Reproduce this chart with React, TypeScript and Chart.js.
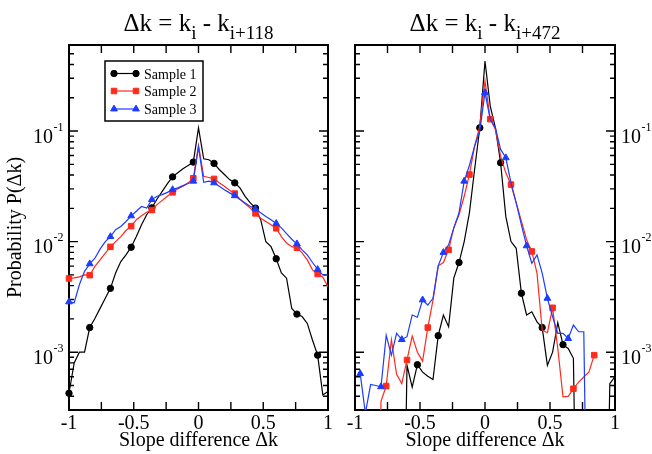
import React, { useEffect, useRef } from 'react';
import { Chart, registerables } from 'chart.js';

Chart.register(...registerables);

// ---------- data ----------
const xGrid = [
  -1, -0.96, -0.92, -0.88, -0.84, -0.8, -0.76, -0.72, -0.68, -0.64, -0.6, -0.56, -0.52,
  -0.48, -0.44, -0.4, -0.36, -0.32, -0.28, -0.24, -0.2, -0.16, -0.12, -0.08, -0.04, 0,
  0.04, 0.08, 0.12, 0.16, 0.2, 0.24, 0.28, 0.32, 0.36, 0.4, 0.44, 0.48, 0.52, 0.56, 0.6,
  0.64, 0.68, 0.72, 0.76, 0.8, 0.84, 0.88, 0.92, 0.96, 1,
];

const seriesNames = ['Sample 1', 'Sample 2', 'Sample 3'];

// Left panel: Δk = k_i - k_{i+118}
const left1 = [
  4.25e-4, 8.0e-4, 1.0e-3, 1.0e-3, 1.67e-3, 2.02e-3, 2.49e-3, 3.07e-3, 3.78e-3, 5.2e-3, 6.6e-3, 7.6e-3, 8.9e-3,
  0.0111, 0.0142, 0.0175, 0.0202, 0.0243, 0.0285, 0.0335, 0.0385, 0.0419, 0.0455, 0.0488, 0.0524, 0.107,
  0.0561, 0.055, 0.051, 0.0449, 0.0405, 0.0364, 0.034, 0.0306, 0.0257, 0.0224, 0.0201, 0.0158, 0.01, 0.009, 0.007,
  0.0052, 0.00467, 0.00249, 0.00221, 0.0021, 0.00182, 0.00129, 0.00094, 0.00041, 0.00044,
];
const left2 = [
  4.64e-3, 4.7e-3, 4.8e-3, 5.0e-3, 4.97e-3, 5.96e-3, 6.84e-3, 7.87e-3, 8.97e-3, 0.01, 0.0111, 0.0126, 0.0138,
  0.0158, 0.0171, 0.0184, 0.0193, 0.0216, 0.0236, 0.0257, 0.0279, 0.03, 0.0317, 0.034, 0.0374, 0.074,
  0.039, 0.038, 0.0369, 0.034, 0.0317, 0.0291, 0.0272, 0.0243, 0.022, 0.0201, 0.018, 0.0163, 0.0152, 0.0142, 0.0132,
  0.0111, 0.0097, 0.009, 0.0088, 0.0079, 0.00684, 0.00555, 0.0051, 0.00476, 0.0039,
];
const left3 = [
  2.85e-3, 2.8e-3, 4.07e-3, 5.38e-3, 6.3e-3, 7.08e-3, 8.55e-3, 0.01, 0.0111, 0.0128, 0.0137, 0.0152, 0.0171,
  0.0188, 0.0208, 0.0201, 0.024, 0.0257, 0.0266, 0.0279, 0.0295, 0.0306, 0.0321, 0.0335, 0.0352, 0.072,
  0.0344, 0.0352, 0.034, 0.0317, 0.0295, 0.0276, 0.026, 0.024, 0.0224, 0.0208, 0.0197, 0.0182, 0.0169, 0.0158, 0.0146,
  0.0133, 0.0118, 0.0105, 0.00955, 0.00843, 0.00759, 0.00647, 0.0056, 0.005, 0.00497,
];

// Right panel: Δk = k_i - k_{i+472}
const right1 = [
  null, null, null, null, null, null, null, null, null, 1e-6, 7.6e-4, 4.84e-4, 7.7e-4,
  6.6e-4, 6.05e-4, 5.65e-4, 1.41e-3, 2.17e-3, 1.7e-3, 4.67e-3, 6.47e-3, 0.01, 0.0182, 0.0449, 0.107, 0.43,
  0.169, 0.107, 0.0517, 0.0169, 0.01, 0.0087, 3.41e-3, 2.17e-3, 2.32e-3, 1.88e-3, 1.67e-3, 7.6e-4, 1.0e-3, 1.85e-3, 1.17e-3,
  1.08e-3, 8.8e-4, 1e-6, null, null, null, null, 1e-6, 5.2e-4, 6.0e-4,
];
const right2 = [
  null, null, null, null, 1e-6, 3.6e-4, 4.94e-4, 1.3e-3, 6.3e-4, 5.2e-4, 8.5e-4, 1.4e-3, 1.0e-3,
  8.3e-4, 1.67e-3, 2.96e-3, 6.04e-3, 6.47e-3, 8.43e-3, 0.0133, 0.0175, 0.0257, 0.0404, 0.073, 0.111, 0.284,
  0.128, 0.1035, 0.0593, 0.0419, 0.0328, 0.0224, 0.0153, 0.0104, 8.15e-3, 5.18e-3, 1.58e-3, 1.5e-3, 2.52e-3, 1.08e-3, 3.94e-4,
  3.98e-4, 4.67e-4, 5.37e-4, 5.97e-4, 6.63e-4, 9.4e-4, null, null, null, null,
];
const right3 = [
  null, 6.4e-4, 2.8e-4, 5.1e-4, 5.0e-4, 4.87e-4, 1.42e-3, 9.4e-4, 1.48e-3, 1.3e-3, 1.38e-3, 2.17e-3, 2.07e-3,
  2.97e-3, 2.67e-3, 3.07e-3, 6.04e-3, 7.98e-3, 9.35e-3, 0.0133, 0.0182, 0.0352, 0.0488, 0.073, 0.1, 0.223,
  0.128, 0.107, 0.0682, 0.0573, 0.034, 0.0224, 0.0142, 9.16e-3, 6.38e-3, 7.59e-3, 5.18e-3, 3.07e-3, 2.09e-3, 1.48e-3, 1.48e-3,
  1.33e-3, 1.76e-3, 1.53e-3, 1.53e-3, 1e-6, null, null, null, null, null,
];

// ticks
const xTickValues = [-1, -0.75, -0.5, -0.25, 0, 0.25, 0.5, 0.75, 1];
const xLabelValues = [-1, -0.5, 0, 0.5, 1];
const xLabelTexts = ['-1', '-0.5', '0', '0.5', '1'];
const yDecadeValues = [1e-3, 1e-2, 1e-1];
const yDecadeExponents = ['-3', '-2', '-1'];
const yMinorMultipliers = [2, 3, 4, 5, 6, 7, 8, 9];
const yMinorBases = [1e-4, 1e-3, 1e-2, 1e-1];

// ---------- style ----------
const FONT = '"Liberation Serif", "Times New Roman", Times, serif';
const COLORS = ['#000000', '#ff2a1c', '#1c3cff'];
const STYLES = ['circle', 'rect', 'triangle'];
const RADII = [3.2, 3.9, 3.9];
const Y_MIN = 3e-4;
const Y_MAX = 0.6;

type PanelCfg = {
  id: string;
  series: (number | null)[][];
  markerStarts: number[];
  sub2: string;
  padding: { left: number; right: number; top: number; bottom: number };
  labelSide: 'left' | 'right';
  legend: boolean;
  yTitle: boolean;
};

const panels: PanelCfg[] = [
  {
    id: 'a',
    series: [left1, left2, left3],
    markerStarts: [0, 0, 0],
    sub2: 'i+118',
    padding: { left: 69, right: 324, top: 45, bottom: 44 },
    labelSide: 'left',
    legend: true,
    yTitle: true,
  },
  {
    id: 'b',
    series: [right1, right2, right3],
    markerStarts: [0, 2, 1],
    sub2: 'i+472',
    padding: { left: 355, right: 37, top: 45, bottom: 44 },
    labelSide: 'right',
    legend: false,
    yTitle: false,
  },
];

function drawMarker(ctx: CanvasRenderingContext2D, style: string, x: number, y: number, r: number, color: string) {
  ctx.save();
  ctx.fillStyle = color;
  ctx.strokeStyle = color;
  ctx.lineWidth = 1;
  ctx.beginPath();
  if (style === 'circle') {
    ctx.arc(x, y, r, 0, Math.PI * 2);
  } else if (style === 'rect') {
    const s = Math.SQRT1_2 * r;
    ctx.rect(x - s, y - s, 2 * s, 2 * s);
  } else {
    for (let k = 0; k < 3; k++) {
      const a = (k * 2 * Math.PI) / 3;
      const px = x + Math.sin(a) * r;
      const py = y - Math.cos(a) * r;
      if (k === 0) ctx.moveTo(px, py);
      else ctx.lineTo(px, py);
    }
    ctx.closePath();
  }
  ctx.fill();
  ctx.stroke();
  ctx.restore();
}

function makeDecor(p: PanelCfg) {
  return {
    id: 'decor-' + p.id,
    beforeDatasetsDraw(chart: any) {
      const { ctx, chartArea: a, scales } = chart;
      const xs = scales.x;
      const ys = scales.y;
      ctx.save();
      ctx.strokeStyle = '#000';
      ctx.lineWidth = 1.4;
      ctx.beginPath();
      for (const t of xTickValues) {
        const px = xs.getPixelForValue(t);
        ctx.moveTo(px, a.bottom);
        ctx.lineTo(px, a.bottom - 8);
        ctx.moveTo(px, a.top);
        ctx.lineTo(px, a.top + 8);
      }
      for (const b of yMinorBases) {
        for (const m of yMinorMultipliers) {
          const v = b * m;
          if (v <= Y_MIN * 1.0001 || v >= Y_MAX * 0.9999) continue;
          const py = ys.getPixelForValue(v);
          ctx.moveTo(a.left, py);
          ctx.lineTo(a.left + 5, py);
          ctx.moveTo(a.right, py);
          ctx.lineTo(a.right - 5, py);
        }
      }
      for (const v of yDecadeValues) {
        const py = ys.getPixelForValue(v);
        ctx.moveTo(a.left, py);
        ctx.lineTo(a.left + 9, py);
        ctx.moveTo(a.right, py);
        ctx.lineTo(a.right - 9, py);
      }
      ctx.stroke();
      ctx.lineWidth = 2;
      ctx.strokeRect(a.left, a.top, a.right - a.left, a.bottom - a.top);
      ctx.restore();
    },
    afterDatasetsDraw(chart: any) {
      if (!p.legend) return;
      const { ctx } = chart;
      ctx.save();
      ctx.fillStyle = '#fff';
      ctx.fillRect(105, 61, 98, 60);
      ctx.strokeStyle = '#000';
      ctx.lineWidth = 1.5;
      ctx.strokeRect(105, 61, 98, 60);
      const rows = [73.5, 91, 109];
      seriesNames.forEach((name, s) => {
        const y = rows[s];
        ctx.strokeStyle = COLORS[s];
        ctx.lineWidth = 1.2;
        ctx.beginPath();
        ctx.moveTo(114, y);
        ctx.lineTo(136, y);
        ctx.stroke();
        drawMarker(ctx, STYLES[s], 114, y, RADII[s], COLORS[s]);
        drawMarker(ctx, STYLES[s], 136, y, RADII[s], COLORS[s]);
        ctx.fillStyle = '#000';
        ctx.font = `14px ${FONT}`;
        ctx.textAlign = 'left';
        ctx.textBaseline = 'alphabetic';
        ctx.fillText(name, 144, y + 5);
      });
      ctx.restore();
    },
    afterDraw(chart: any) {
      const { ctx, chartArea: a, scales } = chart;
      const xs = scales.x;
      const ys = scales.y;
      ctx.save();
      ctx.fillStyle = '#000';
      ctx.textBaseline = 'alphabetic';
      // x tick labels
      ctx.font = `20px ${FONT}`;
      ctx.textAlign = 'center';
      xLabelValues.forEach((v, i) => {
        ctx.fillText(xLabelTexts[i], xs.getPixelForValue(v), a.bottom + 18.5);
      });
      // y decade labels
      yDecadeValues.forEach((v, i) => {
        const py = ys.getPixelForValue(v);
        ctx.font = `20px ${FONT}`;
        const w10 = ctx.measureText('10').width;
        ctx.font = `12px ${FONT}`;
        const wExp = ctx.measureText(yDecadeExponents[i]).width;
        const x0 = p.labelSide === 'left' ? a.left - 5.5 - (w10 + wExp + 0.5) : a.right + 6;
        ctx.textAlign = 'left';
        ctx.font = `20px ${FONT}`;
        ctx.fillText('10', x0, py + 11.5);
        ctx.font = `12px ${FONT}`;
        ctx.fillText(yDecadeExponents[i], x0 + w10 + 0.5, py - 0.5);
      });
      // x axis title
      const cx = (a.left + a.right) / 2;
      ctx.font = `20px ${FONT}`;
      ctx.textAlign = 'center';
      ctx.fillText('Slope difference \u0394k', cx, a.bottom + 36);
      // panel title with subscripts
      const parts = [
        { t: '\u0394k = k', sub: false },
        { t: 'i', sub: true },
        { t: ' - k', sub: false },
        { t: p.sub2, sub: true },
      ];
      const mainFont = `25px ${FONT}`;
      const subFont = `19px ${FONT}`;
      let total = 0;
      const widths = parts.map((pt) => {
        ctx.font = pt.sub ? subFont : mainFont;
        const w = ctx.measureText(pt.t).width;
        total += w;
        return w;
      });
      let tx = cx - total / 2;
      ctx.textAlign = 'left';
      parts.forEach((pt, i) => {
        ctx.font = pt.sub ? subFont : mainFont;
        ctx.fillText(pt.t, tx, pt.sub ? 39 : 31);
        tx += widths[i];
      });
      // y axis title
      if (p.yTitle) {
        ctx.save();
        ctx.translate(21, (a.top + a.bottom) / 2);
        ctx.rotate(-Math.PI / 2);
        ctx.font = `20px ${FONT}`;
        ctx.textAlign = 'center';
        ctx.fillText('Probability P(\u0394k)', 0, 0);
        ctx.restore();
      }
      ctx.restore();
    },
  };
}

function Panel({ p }: { p: PanelCfg }) {
  const ref = useRef<HTMLCanvasElement>(null);
  useEffect(() => {
    const canvas = ref.current;
    if (!canvas) return;
    const chart = new Chart(canvas, {
      type: 'line',
      data: {
        datasets: p.series.map((vals, s) => ({
          label: seriesNames[s],
          data: xGrid.map((x, i) => ({ x, y: vals[i] })),
          borderColor: COLORS[s],
          backgroundColor: COLORS[s],
          borderWidth: 1.2,
          pointStyle: STYLES[s],
          pointRadius: (c: any) => {
            const d = c.dataIndex - p.markerStarts[s];
            return d >= 0 && d % 4 === 0 ? RADII[s] : 0;
          },
          pointBorderWidth: 1,
          pointBorderColor: COLORS[s],
          pointBackgroundColor: COLORS[s],
          tension: 0,
          spanGaps: false,
          order: 3 - s,
          clip: { left: 8, right: 8, top: 0, bottom: 0 },
        })) as any,
      },
      options: {
        responsive: false,
        maintainAspectRatio: false,
        devicePixelRatio: 1,
        animation: false,
        events: [],
        layout: { padding: p.padding },
        scales: {
          x: { type: 'linear', min: -1, max: 1, display: false },
          y: { type: 'logarithmic', min: Y_MIN, max: Y_MAX, display: false },
        },
        plugins: {
          legend: { display: false },
          tooltip: { enabled: false },
          title: { display: false },
        },
      },
      plugins: [makeDecor(p)],
    });
    return () => chart.destroy();
  }, [p]);
  return (
    <canvas
      ref={ref}
      width={652}
      height={454}
      style={{ position: 'absolute', left: 0, top: 0, width: 652, height: 454, display: 'block' }}
    />
  );
}

export default function App() {
  return (
    <div style={{ position: 'absolute', left: 0, top: 0, width: 652, height: 454, background: '#fff' }}>
      {panels.map((p) => (
        <Panel key={p.id} p={p} />
      ))}
    </div>
  );
}
